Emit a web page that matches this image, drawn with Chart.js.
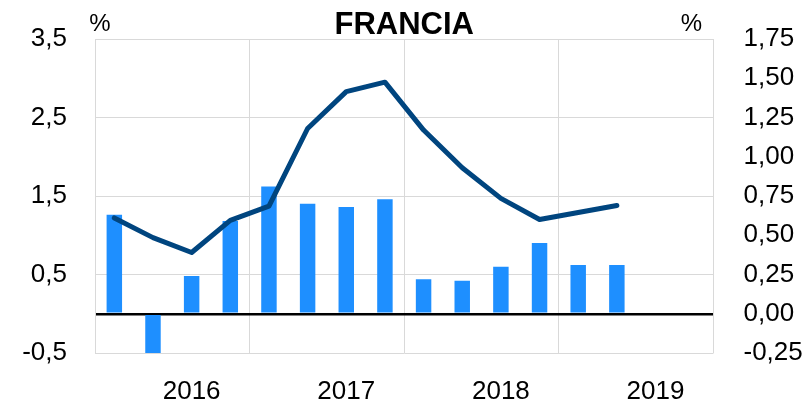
<!DOCTYPE html>
<html>
<head>
<meta charset="utf-8">
<script src="https://cdn.jsdelivr.net/npm/chart.js@4/dist/chart.umd.min.js"></script>
<style>
  html, body { margin: 0; padding: 0; background: #ffffff; }
  #wrap { width: 811px; height: 402px; position: relative; }
</style>
</head>
<body>
<div id="wrap"><canvas id="chart"></canvas></div>
<script>
// === DATI (trimestri 2016-2019) ===
const quarters = [
  "2016 T1", "2016 T2", "2016 T3", "2016 T4",
  "2017 T1", "2017 T2", "2017 T3", "2017 T4",
  "2018 T1", "2018 T2", "2018 T3", "2018 T4",
  "2019 T1", "2019 T2", "2019 T3", "2019 T4"
];
const years = ["2016", "2017", "2018", "2019"];

// variazione tendenziale (asse sinistro, %)
const annualGrowth = [1.22, 0.97, 0.78, 1.19, 1.37, 2.36, 2.83, 2.95, 2.34, 1.86, 1.47, 1.20, 1.29, 1.38, null, null];
// variazione congiunturale (asse destro, %)
const quarterlyGrowth = [0.63, -0.26, 0.24, 0.59, 0.81, 0.70, 0.68, 0.73, 0.22, 0.21, 0.30, 0.45, 0.31, 0.31, null, null];

const leftTicks = [-0.5, 0.5, 1.5, 2.5, 3.5];
const rightTicks = [-0.25, 0, 0.25, 0.5, 0.75, 1, 1.25, 1.5, 1.75];

const TITLE = "FRANCIA";
const UNIT = "%";

const FONT = "'Liberation Sans', Arial, Helvetica, sans-serif";
const GRID = "#d9d9d9";

// === TESTI SOPRA IL GRAFICO ===
const headerText = {
  id: "headerText",
  afterDraw(chart) {
    const ctx = chart.ctx;
    const area = chart.chartArea;
    ctx.save();
    ctx.fillStyle = "#000000";
    ctx.textBaseline = "middle";
    ctx.textAlign = "center";
    ctx.font = "bold 31px " + FONT;
    ctx.fillText(TITLE, (area.left + area.right) / 2, 25);
    ctx.font = "24px " + FONT;
    ctx.fillText(UNIT, area.left + 5, 24);
    ctx.fillText(UNIT, area.right - 22, 24);
    ctx.restore();
  }
};

// larghezza fissa degli assi verticali, senza margini extra per le etichette
function fitY(width) {
  return (s) => {
    s.width = width;
    s.paddingTop = 0;
    s.paddingBottom = 0;
  };
}

new Chart(document.getElementById("chart"), {
  data: {
    labels: quarters,
    datasets: [
      {
        type: "line",
        label: "Tendenziale",
        data: annualGrowth,
        yAxisID: "y",
        borderColor: "#00457f",
        borderWidth: 5,
        pointRadius: 0,
        tension: 0,
        borderJoinStyle: "round",
        borderCapStyle: "round",
        spanGaps: false,
        order: 0
      },
      {
        type: "bar",
        label: "Congiunturale",
        data: quarterlyGrowth,
        yAxisID: "y1",
        backgroundColor: "#1e8fff",
        barPercentage: 0.4,
        categoryPercentage: 1,
        order: 1
      }
    ]
  },
  options: {
    responsive: true,
    maintainAspectRatio: false,
    animation: false,
    layout: { padding: { top: 39, left: 0, right: 0, bottom: 0 } },
    plugins: {
      legend: { display: false },
      tooltip: { enabled: false }
    },
    scales: {
      x: {
        offset: true,
        grid: {
          offset: true,
          drawTicks: false,
          color: (c) => (c.index % 4 === 0 ? GRID : "rgba(0,0,0,0)"),
          lineWidth: 1
        },
        border: { display: false },
        ticks: {
          autoSkip: false,
          maxRotation: 0,
          padding: 23,
          color: "#000000",
          font: { family: FONT, size: 26 },
          callback: (v, i) => (i % 4 === 2 ? years[Math.floor(i / 4)] : "")
        },
        afterFit: (s) => { s.height = 49; }
      },
      y: {
        position: "left",
        min: leftTicks[0],
        max: leftTicks[leftTicks.length - 1],
        ticks: {
          stepSize: 1,
          padding: 28,
          color: "#000000",
          font: { family: FONT, size: 26 },
          callback: (v) => v.toFixed(1).replace(".", ",")
        },
        grid: { color: GRID, lineWidth: 1, drawTicks: false },
        border: { display: true, color: GRID },
        afterFit: fitY(95)
      },
      y1: {
        position: "right",
        min: rightTicks[0],
        max: rightTicks[rightTicks.length - 1],
        z: 1,
        ticks: {
          stepSize: 0.25,
          padding: 30,
          color: "#000000",
          font: { family: FONT, size: 26 },
          callback: (v) => v.toFixed(2).replace(".", ",")
        },
        grid: {
          drawTicks: false,
          color: (c) => (c.tick && c.tick.value === 0 ? "#000000" : "rgba(0,0,0,0)"),
          lineWidth: (c) => (c.tick && c.tick.value === 0 ? 2.5 : 0)
        },
        border: { display: true, color: GRID },
        afterFit: fitY(97.5)
      }
    }
  },
  plugins: [headerText]
});
</script>
</body>
</html>
